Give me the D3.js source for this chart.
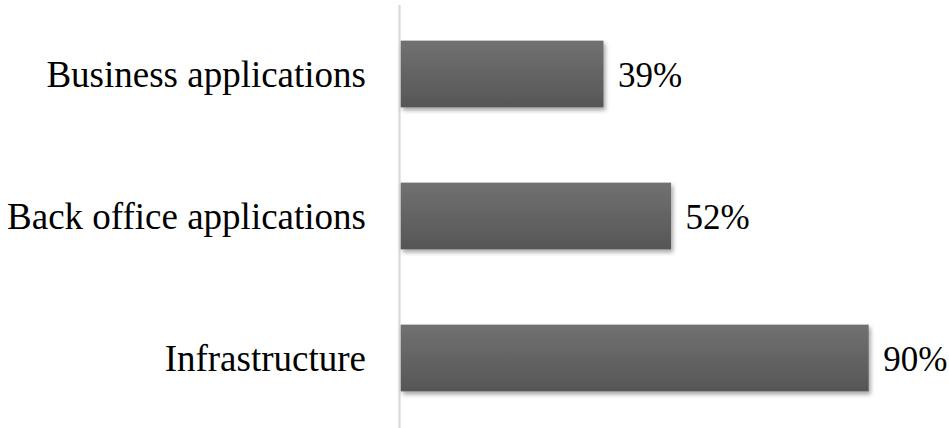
<!DOCTYPE html>
<html>
<head>
<meta charset="utf-8">
<script src="https://cdn.jsdelivr.net/npm/d3@7"></script>
<style>
  html, body { margin: 0; padding: 0; background: #fff; }
  svg { display: block; }
</style>
</head>
<body>
<svg id="chart" width="949" height="428"></svg>
<script>
const categories = ["Business applications", "Back office applications", "Infrastructure"];
const values = [39, 52, 90];
const valueLabels = ["39%", "52%", "90%"];

const svg = d3.select("#chart");
const W = 949, H = 428;
const x0 = 400.7;

const x = d3.scaleLinear().domain([0, 100]).range([x0, x0 + 520]);
const y = d3.scaleBand().domain(categories).range([3, 429]).paddingInner(0.53).paddingOuter(0.265);

const defs = svg.append("defs");
const grad = defs.append("linearGradient")
  .attr("id", "barGrad").attr("x1", 0).attr("y1", 0).attr("x2", 0).attr("y2", 1);
grad.append("stop").attr("offset", "0%").attr("stop-color", "#717171");
grad.append("stop").attr("offset", "100%").attr("stop-color", "#565656");

const shadow = defs.append("filter").attr("id", "barShadow")
  .attr("x", "-5%").attr("y", "-20%").attr("width", "115%").attr("height", "150%");
shadow.append("feDropShadow")
  .attr("dx", 2).attr("dy", 3).attr("stdDeviation", 2.2)
  .attr("flood-color", "#000").attr("flood-opacity", 0.35);

// vertical category axis line
svg.append("line")
  .attr("x1", 399.5).attr("x2", 399.5)
  .attr("y1", 5).attr("y2", H)
  .attr("stroke", "#d9d9d9").attr("stroke-width", 2.2);

// bars
svg.selectAll("rect.bar")
  .data(categories)
  .join("rect")
  .attr("class", "bar")
  .attr("x", x(0))
  .attr("y", d => y(d))
  .attr("width", (d, i) => x(values[i]) - x(0))
  .attr("height", y.bandwidth())
  .attr("fill", "url(#barGrad)")
  .attr("filter", "url(#barShadow)");

// category labels
svg.selectAll("text.cat")
  .data(categories)
  .join("text")
  .attr("class", "cat")
  .attr("x", 366)
  .attr("y", d => y(d) + y.bandwidth() / 2)
  .attr("text-anchor", "end")
  .attr("dominant-baseline", "central")
  .attr("font-family", "'Liberation Serif', 'Times New Roman', serif")
  .attr("font-size", 37)
  .attr("fill", "#000")
  .text(d => d);

// value labels
svg.selectAll("text.val")
  .data(categories)
  .join("text")
  .attr("class", "val")
  .attr("x", (d, i) => x(values[i]) + 14.5)
  .attr("y", d => y(d) + y.bandwidth() / 2 + 1.3)
  .attr("dominant-baseline", "central")
  .attr("font-family", "'Liberation Serif', 'Times New Roman', serif")
  .attr("font-size", 35)
  .attr("fill", "#000")
  .text((d, i) => valueLabels[i]);
</script>
</body>
</html>
